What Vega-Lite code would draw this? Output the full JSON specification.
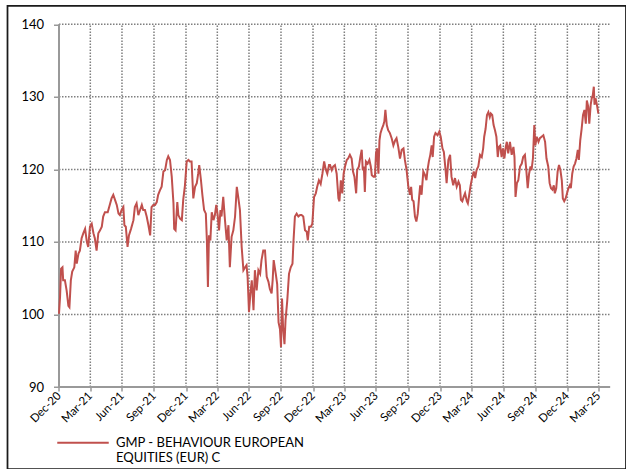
{
"$schema":"https://vega.github.io/schema/vega-lite/v6.json",
"width":618.5,"height":463.25,
"autosize":{"type":"none"},
"padding":{"left":7.5,"top":5.75,"right":0,"bottom":0},
"background":"white",
"config":{"font":"Lato","view":{"stroke":"#1a1a1a","strokeWidth":1.75},"axis":{"labelOverlap":false,"labelFlush":false,"labelBound":false}},
"datasets":{
"hgrid":[{"v":100,"from":"2020-12-31","to":"2025-05-03"},{"v":110,"from":"2020-12-31","to":"2025-05-03"},{"v":120,"from":"2020-12-31","to":"2025-05-03"},{"v":130,"from":"2020-12-31","to":"2025-05-03"},{"v":140,"from":"2020-12-31","to":"2025-05-03"}],
"vgrid":[{"q":"2021-03-31","lo":90,"hi":140},{"q":"2021-06-30","lo":90,"hi":140},{"q":"2021-09-30","lo":90,"hi":140},{"q":"2021-12-31","lo":90,"hi":140},{"q":"2022-03-31","lo":90,"hi":140},{"q":"2022-06-30","lo":90,"hi":140},{"q":"2022-09-30","lo":90,"hi":140},{"q":"2022-12-31","lo":90,"hi":140},{"q":"2023-03-31","lo":90,"hi":140},{"q":"2023-06-30","lo":90,"hi":140},{"q":"2023-09-30","lo":90,"hi":140},{"q":"2023-12-31","lo":90,"hi":140},{"q":"2024-03-31","lo":90,"hi":140},{"q":"2024-06-30","lo":90,"hi":140},{"q":"2024-09-30","lo":90,"hi":140},{"q":"2024-12-31","lo":90,"hi":140},{"q":"2025-03-31","lo":90,"hi":140}],
"xbase":[{"v":90,"from":"2020-12-31","to":"2025-05-03"}],
"ybase":[{"q":"2020-12-31","lo":90,"hi":140}],
"series":[
{"d":"2020-12-31","v":100.1},{"d":"2021-01-03","v":102.4},{"d":"2021-01-06","v":106.3},{"d":"2021-01-10","v":106.5},{"d":"2021-01-12","v":104.7},{"d":"2021-01-17","v":104.7},{"d":"2021-01-22","v":103.3},{"d":"2021-01-27","v":101.2},{"d":"2021-01-30","v":101.0},{"d":"2021-02-03","v":104.7},{"d":"2021-02-07","v":105.9},{"d":"2021-02-13","v":106.5},{"d":"2021-02-17","v":108.8},{"d":"2021-02-20","v":107.0},{"d":"2021-02-25","v":108.4},{"d":"2021-03-01","v":108.8},{"d":"2021-03-06","v":110.5},{"d":"2021-03-11","v":111.2},{"d":"2021-03-16","v":111.8},{"d":"2021-03-21","v":110.0},{"d":"2021-03-25","v":109.3},{"d":"2021-03-30","v":112.1},{"d":"2021-04-04","v":112.5},{"d":"2021-04-09","v":111.2},{"d":"2021-04-13","v":110.5},{"d":"2021-04-18","v":108.8},{"d":"2021-04-23","v":111.2},{"d":"2021-04-28","v":111.6},{"d":"2021-05-03","v":112.1},{"d":"2021-05-07","v":113.5},{"d":"2021-05-12","v":114.1},{"d":"2021-05-20","v":114.1},{"d":"2021-05-27","v":115.3},{"d":"2021-05-31","v":116.0},{"d":"2021-06-05","v":116.5},{"d":"2021-06-10","v":115.8},{"d":"2021-06-15","v":115.1},{"d":"2021-06-20","v":113.9},{"d":"2021-06-24","v":113.7},{"d":"2021-06-29","v":114.4},{"d":"2021-07-04","v":114.8},{"d":"2021-07-07","v":112.3},{"d":"2021-07-11","v":112.1},{"d":"2021-07-16","v":109.3},{"d":"2021-07-20","v":110.9},{"d":"2021-07-26","v":111.8},{"d":"2021-08-02","v":113.0},{"d":"2021-08-06","v":114.8},{"d":"2021-08-11","v":115.3},{"d":"2021-08-16","v":113.7},{"d":"2021-08-21","v":114.4},{"d":"2021-08-26","v":115.1},{"d":"2021-08-30","v":114.4},{"d":"2021-09-04","v":114.4},{"d":"2021-09-09","v":113.5},{"d":"2021-09-14","v":112.3},{"d":"2021-09-19","v":110.9},{"d":"2021-09-23","v":114.8},{"d":"2021-09-28","v":115.1},{"d":"2021-10-03","v":115.1},{"d":"2021-10-08","v":115.5},{"d":"2021-10-12","v":116.5},{"d":"2021-10-17","v":117.1},{"d":"2021-10-22","v":117.6},{"d":"2021-10-27","v":119.7},{"d":"2021-11-01","v":119.9},{"d":"2021-11-06","v":121.3},{"d":"2021-11-10","v":121.8},{"d":"2021-11-15","v":121.3},{"d":"2021-11-20","v":119.0},{"d":"2021-11-25","v":115.3},{"d":"2021-11-27","v":111.8},{"d":"2021-12-01","v":111.6},{"d":"2021-12-06","v":115.5},{"d":"2021-12-09","v":113.7},{"d":"2021-12-14","v":113.2},{"d":"2021-12-19","v":113.0},{"d":"2021-12-23","v":115.8},{"d":"2021-12-28","v":117.8},
{"d":"2022-01-02","v":121.1},{"d":"2022-01-07","v":121.3},{"d":"2022-01-11","v":121.1},{"d":"2022-01-16","v":121.1},{"d":"2022-01-21","v":116.0},{"d":"2022-01-26","v":117.6},{"d":"2022-01-31","v":118.1},{"d":"2022-02-04","v":119.4},{"d":"2022-02-07","v":120.6},{"d":"2022-02-12","v":118.5},{"d":"2022-02-16","v":116.5},{"d":"2022-02-21","v":114.4},{"d":"2022-02-26","v":113.9},{"d":"2022-03-01","v":110.2},{"d":"2022-03-04","v":103.8},{"d":"2022-03-07","v":110.9},{"d":"2022-03-11","v":110.2},{"d":"2022-03-15","v":114.1},{"d":"2022-03-20","v":113.0},{"d":"2022-03-24","v":113.7},{"d":"2022-03-28","v":115.1},{"d":"2022-04-01","v":113.7},{"d":"2022-04-05","v":111.6},{"d":"2022-04-09","v":114.4},{"d":"2022-04-12","v":113.5},{"d":"2022-04-17","v":116.2},{"d":"2022-04-22","v":113.0},{"d":"2022-04-27","v":110.2},{"d":"2022-05-02","v":112.3},{"d":"2022-05-06","v":106.5},{"d":"2022-05-11","v":110.7},{"d":"2022-05-16","v":111.6},{"d":"2022-05-21","v":113.5},{"d":"2022-05-26","v":117.6},{"d":"2022-05-30","v":116.2},{"d":"2022-06-04","v":114.4},{"d":"2022-06-09","v":109.3},{"d":"2022-06-14","v":106.1},{"d":"2022-06-19","v":106.5},{"d":"2022-06-23","v":106.8},{"d":"2022-06-26","v":105.2},{"d":"2022-06-30","v":100.3},{"d":"2022-07-04","v":102.9},{"d":"2022-07-08","v":104.7},{"d":"2022-07-13","v":100.6},{"d":"2022-07-17","v":106.1},{"d":"2022-07-22","v":103.3},{"d":"2022-07-27","v":106.1},{"d":"2022-08-01","v":105.6},{"d":"2022-08-05","v":107.5},{"d":"2022-08-10","v":108.8},{"d":"2022-08-15","v":108.8},{"d":"2022-08-20","v":105.2},{"d":"2022-08-25","v":104.5},{"d":"2022-08-29","v":103.5},{"d":"2022-09-03","v":102.9},{"d":"2022-09-06","v":104.7},{"d":"2022-09-09","v":107.5},{"d":"2022-09-15","v":105.6},{"d":"2022-09-19","v":104.2},{"d":"2022-09-23","v":98.9},{"d":"2022-09-27","v":98.0},{"d":"2022-09-30","v":95.5},{"d":"2022-10-03","v":102.2},{"d":"2022-10-06","v":98.2},{"d":"2022-10-10","v":95.9},{"d":"2022-10-13","v":99.2},{"d":"2022-10-18","v":101.9},{"d":"2022-10-23","v":105.6},{"d":"2022-10-28","v":106.5},{"d":"2022-11-02","v":107.0},{"d":"2022-11-05","v":110.2},{"d":"2022-11-09","v":113.5},{"d":"2022-11-14","v":113.9},{"d":"2022-11-19","v":113.5},{"d":"2022-11-24","v":113.7},{"d":"2022-11-28","v":113.7},{"d":"2022-12-03","v":113.5},{"d":"2022-12-08","v":111.6},{"d":"2022-12-13","v":111.4},{"d":"2022-12-16","v":110.2},{"d":"2022-12-20","v":112.1},{"d":"2022-12-25","v":112.1},{"d":"2022-12-29","v":112.5},
{"d":"2023-01-03","v":116.2},{"d":"2023-01-08","v":116.7},{"d":"2023-01-12","v":117.6},{"d":"2023-01-17","v":118.5},{"d":"2023-01-22","v":118.0},{"d":"2023-01-27","v":119.4},{"d":"2023-02-01","v":121.1},{"d":"2023-02-05","v":120.1},{"d":"2023-02-10","v":119.4},{"d":"2023-02-15","v":120.6},{"d":"2023-02-18","v":120.6},{"d":"2023-02-23","v":119.9},{"d":"2023-02-27","v":120.4},{"d":"2023-03-04","v":120.6},{"d":"2023-03-09","v":119.4},{"d":"2023-03-14","v":116.0},{"d":"2023-03-17","v":115.6},{"d":"2023-03-21","v":118.5},{"d":"2023-03-25","v":116.7},{"d":"2023-03-29","v":119.4},{"d":"2023-04-02","v":120.4},{"d":"2023-04-07","v":121.3},{"d":"2023-04-11","v":121.5},{"d":"2023-04-16","v":122.0},{"d":"2023-04-21","v":121.5},{"d":"2023-04-25","v":119.7},{"d":"2023-04-29","v":119.0},{"d":"2023-05-04","v":116.7},{"d":"2023-05-07","v":119.9},{"d":"2023-05-12","v":120.4},{"d":"2023-05-16","v":121.7},{"d":"2023-05-20","v":122.7},{"d":"2023-05-23","v":119.9},{"d":"2023-05-26","v":120.4},{"d":"2023-05-29","v":116.9},{"d":"2023-06-01","v":121.1},{"d":"2023-06-06","v":120.8},{"d":"2023-06-11","v":121.3},{"d":"2023-06-15","v":120.4},{"d":"2023-06-18","v":119.2},{"d":"2023-06-23","v":119.0},{"d":"2023-06-27","v":119.0},{"d":"2023-06-30","v":122.2},{"d":"2023-07-03","v":122.9},{"d":"2023-07-07","v":119.4},{"d":"2023-07-10","v":124.0},{"d":"2023-07-13","v":125.0},{"d":"2023-07-17","v":125.6},{"d":"2023-07-21","v":126.1},{"d":"2023-07-24","v":126.6},{"d":"2023-07-27","v":128.2},{"d":"2023-07-31","v":126.1},{"d":"2023-08-04","v":125.4},{"d":"2023-08-09","v":125.0},{"d":"2023-08-14","v":124.3},{"d":"2023-08-19","v":123.3},{"d":"2023-08-24","v":124.0},{"d":"2023-08-28","v":124.3},{"d":"2023-09-02","v":123.1},{"d":"2023-09-07","v":121.5},{"d":"2023-09-12","v":122.7},{"d":"2023-09-17","v":122.9},{"d":"2023-09-21","v":121.3},{"d":"2023-09-26","v":119.9},{"d":"2023-10-01","v":117.6},{"d":"2023-10-06","v":116.5},{"d":"2023-10-09","v":117.6},{"d":"2023-10-12","v":115.8},{"d":"2023-10-16","v":115.6},{"d":"2023-10-20","v":113.5},{"d":"2023-10-24","v":112.8},{"d":"2023-10-28","v":113.9},{"d":"2023-11-01","v":116.2},{"d":"2023-11-04","v":117.8},{"d":"2023-11-08","v":116.5},{"d":"2023-11-13","v":119.7},{"d":"2023-11-18","v":119.2},{"d":"2023-11-22","v":118.5},{"d":"2023-11-25","v":119.9},{"d":"2023-11-29","v":121.1},{"d":"2023-12-03","v":122.0},{"d":"2023-12-07","v":123.3},{"d":"2023-12-10","v":121.7},{"d":"2023-12-14","v":124.5},{"d":"2023-12-18","v":125.0},{"d":"2023-12-24","v":124.7},{"d":"2023-12-29","v":125.2},
{"d":"2024-01-02","v":124.5},{"d":"2024-01-07","v":122.9},{"d":"2024-01-11","v":122.4},{"d":"2024-01-16","v":119.9},{"d":"2024-01-19","v":118.1},{"d":"2024-01-24","v":121.3},{"d":"2024-01-29","v":122.0},{"d":"2024-02-02","v":119.0},{"d":"2024-02-07","v":117.8},{"d":"2024-02-12","v":118.8},{"d":"2024-02-17","v":117.6},{"d":"2024-02-22","v":118.3},{"d":"2024-02-26","v":117.8},{"d":"2024-02-29","v":115.8},{"d":"2024-03-04","v":115.6},{"d":"2024-03-08","v":116.2},{"d":"2024-03-12","v":116.7},{"d":"2024-03-17","v":115.6},{"d":"2024-03-20","v":115.3},{"d":"2024-03-24","v":116.5},{"d":"2024-03-28","v":117.8},{"d":"2024-04-02","v":119.0},{"d":"2024-04-06","v":119.7},{"d":"2024-04-10","v":118.8},{"d":"2024-04-14","v":119.9},{"d":"2024-04-19","v":120.4},{"d":"2024-04-24","v":122.0},{"d":"2024-04-29","v":121.7},{"d":"2024-05-03","v":122.9},{"d":"2024-05-06","v":124.5},{"d":"2024-05-10","v":125.6},{"d":"2024-05-14","v":127.5},{"d":"2024-05-18","v":127.9},{"d":"2024-05-22","v":127.2},{"d":"2024-05-25","v":127.7},{"d":"2024-05-29","v":127.5},{"d":"2024-06-02","v":126.1},{"d":"2024-06-06","v":125.4},{"d":"2024-06-10","v":124.5},{"d":"2024-06-14","v":121.7},{"d":"2024-06-17","v":123.1},{"d":"2024-06-21","v":123.3},{"d":"2024-06-25","v":121.7},{"d":"2024-06-29","v":122.9},{"d":"2024-07-03","v":121.5},{"d":"2024-07-07","v":123.1},{"d":"2024-07-10","v":123.8},{"d":"2024-07-14","v":122.2},{"d":"2024-07-19","v":123.8},{"d":"2024-07-24","v":122.0},{"d":"2024-07-29","v":123.1},{"d":"2024-08-01","v":121.7},{"d":"2024-08-04","v":116.2},{"d":"2024-08-08","v":118.1},{"d":"2024-08-12","v":118.5},{"d":"2024-08-17","v":120.4},{"d":"2024-08-22","v":120.8},{"d":"2024-08-26","v":121.7},{"d":"2024-08-31","v":122.0},{"d":"2024-09-04","v":119.9},{"d":"2024-09-08","v":117.4},{"d":"2024-09-12","v":119.4},{"d":"2024-09-16","v":120.4},{"d":"2024-09-19","v":119.9},{"d":"2024-09-23","v":121.5},{"d":"2024-09-27","v":126.1},{"d":"2024-09-30","v":123.3},{"d":"2024-10-04","v":124.5},{"d":"2024-10-09","v":123.8},{"d":"2024-10-13","v":124.3},{"d":"2024-10-18","v":124.5},{"d":"2024-10-23","v":124.7},{"d":"2024-10-28","v":123.8},{"d":"2024-11-01","v":121.5},{"d":"2024-11-06","v":120.4},{"d":"2024-11-10","v":118.1},{"d":"2024-11-14","v":117.4},{"d":"2024-11-18","v":117.2},{"d":"2024-11-22","v":117.8},{"d":"2024-11-25","v":116.7},{"d":"2024-11-29","v":117.4},{"d":"2024-12-03","v":119.7},{"d":"2024-12-07","v":120.6},{"d":"2024-12-11","v":119.9},{"d":"2024-12-15","v":118.5},{"d":"2024-12-18","v":116.0},{"d":"2024-12-22","v":115.6},{"d":"2024-12-26","v":116.0},{"d":"2024-12-30","v":116.7},
{"d":"2025-01-03","v":117.4},{"d":"2025-01-07","v":117.8},{"d":"2025-01-10","v":117.4},{"d":"2025-01-14","v":119.4},{"d":"2025-01-18","v":120.4},{"d":"2025-01-22","v":120.8},{"d":"2025-01-26","v":121.5},{"d":"2025-01-30","v":122.7},{"d":"2025-02-02","v":121.3},{"d":"2025-02-06","v":124.0},{"d":"2025-02-10","v":125.6},{"d":"2025-02-14","v":127.5},{"d":"2025-02-18","v":128.2},{"d":"2025-02-22","v":126.3},{"d":"2025-02-25","v":129.5},{"d":"2025-03-01","v":128.6},{"d":"2025-03-04","v":126.3},{"d":"2025-03-08","v":128.9},{"d":"2025-03-11","v":129.8},{"d":"2025-03-14","v":130.2},{"d":"2025-03-17","v":131.4},{"d":"2025-03-19","v":128.9},{"d":"2025-03-22","v":129.8},{"d":"2025-03-26","v":128.9},{"d":"2025-03-30","v":127.7}
]},
"layer":[
{"data":{"name":"hgrid","format":{"parse":{"from":"utc:'%Y-%m-%d'","to":"utc:'%Y-%m-%d'"}}},
 "mark":{"type":"rule","stroke":"#7f7f7f","strokeWidth":1.5,"strokeDash":[1.5,1.5]},
 "encoding":{
  "y":{"field":"v","type":"quantitative"},
  "x":{"field":"from","type":"temporal"},
  "x2":{"field":"to"}}},
{"data":{"name":"vgrid","format":{"parse":{"q":"utc:'%Y-%m-%d'"}}},
 "mark":{"type":"rule","stroke":"#7f7f7f","strokeWidth":1.5,"strokeDash":[1.5,1.5]},
 "encoding":{
  "x":{"field":"q","type":"temporal"},
  "y":{"field":"lo","type":"quantitative"},
  "y2":{"field":"hi"}}},
{"data":{"name":"xbase","format":{"parse":{"from":"utc:'%Y-%m-%d'","to":"utc:'%Y-%m-%d'"}}},
 "mark":{"type":"rule","stroke":"#999999","strokeWidth":2},
 "encoding":{
  "y":{"field":"v","type":"quantitative"},
  "x":{"field":"from","type":"temporal"},
  "x2":{"field":"to"}}},
{"data":{"name":"ybase","format":{"parse":{"q":"utc:'%Y-%m-%d'"}}},
 "mark":{"type":"rule","stroke":"#999999","strokeWidth":2},
 "encoding":{
  "x":{"field":"q","type":"temporal"},
  "y":{"field":"lo","type":"quantitative"},
  "y2":{"field":"hi"}}},
{"data":{"name":"series","format":{"parse":{"d":"utc:'%Y-%m-%d'"}}},
 "mark":{"type":"line","strokeWidth":2,"interpolate":"linear"},
 "encoding":{
  "x":{"field":"d","type":"temporal",
   "scale":{"type":"utc","nice":false,"domain":[1596585600000,1750161600000]},
   "axis":{"title":null,"offset":-82,"domain":false,"grid":false,"ticks":true,"tickSize":4,"tickColor":"#999999","tickWidth":1.5,"tickCount":40,
    "values":[1609372800000,1617148800000,1625011200000,1632960000000,1640908800000,1648684800000,1656547200000,1664496000000,1672444800000,1680220800000,1688083200000,1696032000000,1703980800000,1711843200000,1719705600000,1727654400000,1735603200000,1743379200000],
    "labelExpr":"utcFormat(datum.value,'%b-%y')","labelAngle":-45,"labelAlign":"right","labelBaseline":"middle","labelFontSize":11.5,"labelColor":"#000000","labelPadding":3,"labelOverlap":false,"labelBound":false,"labelFlush":false}},
  "y":{"field":"v","type":"quantitative",
   "scale":{"domain":[78.696,142.557],"nice":false,"zero":false},
   "axis":{"title":null,"offset":-51.5,"domain":false,"grid":false,"values":[90,100,110,120,130,140],"tickCount":20,"tickSize":5.5,"tickColor":"#999999","tickWidth":1.5,"labelFontSize":13,"labelPadding":10,"labelColor":"#000000","labelFlush":false}},
  "color":{"datum":"GMP - BEHAVIOUR EUROPEAN EQUITIES (EUR) C","type":"nominal","scale":{"range":["#c0504d"]},
   "legend":{"title":null,"orient":"none","legendX":48.5,"legendY":410,"padding":0,"symbolType":"stroke","symbolSize":2650,"symbolStrokeWidth":2,"labelFontSize":13,"labelColor":"#000000","labelOffset":6,"labelLimit":0,
    "labelExpr":"[slice(datum.label,0,24), slice(datum.label,25)]"}}}}
]
}
